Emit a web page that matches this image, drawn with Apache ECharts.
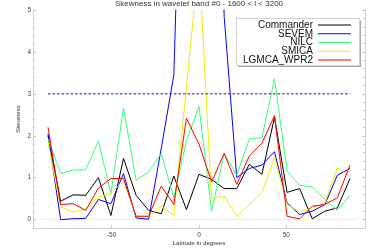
<!DOCTYPE html>
<html>
<head>
<meta charset="utf-8">
<script src="https://cdn.jsdelivr.net/npm/echarts@6/dist/echarts.min.js"></script>
<style>html,body{margin:0;padding:0;background:#fff}#c{width:375px;height:250px}</style>
</head>
<body>
<div id="c"></div>
<script>
var latitudes = [-86.4,-79.2,-72,-64.8,-57.6,-50.4,-43.2,-36,-28.8,-21.6,-14.4,-7.2,0,7.2,14.4,21.6,28.8,36,43.2,50.4,57.6,64.8,72,79.2,86.4];
var commander = [2.0,0.44,0.59,0.58,1.0,0.1,1.46,0.58,0.22,0.14,1.04,0.24,1.08,0.96,0.74,0.74,1.32,1.08,2.44,0.65,0.74,0.02,0.2,0.28,0.98];
var sevem = [2.05,0.0,0.02,0.03,0.48,0.38,1.1,0.04,0.01,1.7,3.45,13.4,15.0,14.0,4.85,1.0,1.22,1.3,1.62,0.4,0.12,0.2,0.36,1.06,1.22];
var nilc = [1.92,1.1,1.18,1.19,1.88,0.62,2.66,0.94,1.14,1.58,0.52,1.88,2.7,0.2,1.58,1.06,1.92,1.96,3.36,1.16,0.82,0.78,0.48,0.22,0.58];
var smica = [1.85,0.3,0.18,0.26,0.54,0.62,0.94,0.08,0.08,0.32,0.1,3.15,6.2,0.5,0.56,0.08,0.36,0.64,1.48,0.36,0.18,0.28,0.4,1.24,1.02];
var lgmca = [2.2,0.36,0.38,0.22,0.75,0.98,0.98,0.08,0.08,0.8,0.36,2.42,1.8,0.9,1.58,0.84,1.52,1.82,2.48,0.08,0.02,0.32,0.36,0.52,1.3];
var threshold = 3;
var seriesNames = ['Commander','SEVEM','NILC','SMICA','LGMCA_WPR2'];
var seriesColors = ['#000000','#0000ff','#33ff77','#eeee00','#ff0000'];
var yMajorTicks = [0,1,2,3,4,5];
var yMinorTicks = [0.2,0.4,0.6,0.8,1.2,1.4,1.6,1.8,2.2,2.4,2.6,2.8,3.2,3.4,3.6,3.8,4.2,4.4,4.6,4.8];
var xTicks = [-50,0,50];

var FONT = 'Liberation Sans, Arial, sans-serif';
var allValues = [commander, sevem, nilc, smica, lgmca];
function pairs(vals){ return latitudes.map(function(l,i){ return [l, vals[i]]; }); }

var series = allValues.map(function(v,i){
  return {
    name: seriesNames[i], type: 'line', data: pairs(v), showSymbol: false, symbol: 'none',
    lineStyle: { width: 1, color: seriesColors[i] }, itemStyle: { color: seriesColors[i] },
    clip: true, animation: false, z: 3 + i
  };
});
series.unshift({
  name: 'zero', type: 'line', symbol: 'none', silent: true, animation: false,
  data: [[-90.5, 0], [91, 0]], lineStyle: { width: 1, color: '#ebebeb' }, z: 1
});
series.push({
  name: 'threshold', type: 'line', symbol: 'none', silent: true, animation: false,
  data: [[latitudes[0], threshold], [latitudes[latitudes.length-1], threshold]],
  lineStyle: { width: 1, color: '#3c0082', type: [2.5, 2] }, z: 9
});

function yAx(pos, ticks, len, showLine, showLabel, name){
  return {
    type: 'value', position: pos, min: -0.2, max: 5, offset: 0,
    name: name || '', nameLocation: 'middle', nameGap: 12, nameRotate: 90, nameMoveOverlap: false,
    nameTextStyle: { fontFamily: FONT, fontSize: 6, color: '#333' },
    axisLine: { show: showLine, onZero: false, lineStyle: { color: '#cfcfcf', width: 1 } },
    axisTick: { show: true, inside: true, length: len, customValues: ticks, lineStyle: { color: '#c8c8c8' } },
    axisLabel: { show: showLabel, customValues: yMajorTicks, margin: 2, fontFamily: FONT, fontSize: 6.5, color: '#444' },
    splitLine: { show: false }
  };
}

var legends = seriesNames.map(function(n,i){
  var cy = 25 + i * 8.75;
  return {
    data: [n], orient: 'horizontal', align: 'right', right: 24, top: cy - 5, padding: 0, z: 100,
    itemWidth: 33, itemHeight: 1, itemGap: 0, icon: 'rect', selectedMode: false,
    textStyle: { fontFamily: FONT, fontSize: 10, lineHeight: 10, color: '#111', padding: [0,0,0,0] }
  };
});

var option = {
  animation: false,
  backgroundColor: '#fff',
  title: {
    text: 'Skewness in wavelet band #0 - 1600 < l < 3200',
    left: 199, textAlign: 'center', top: 0, padding: 0,
    textStyle: { fontFamily: FONT, fontSize: 8, fontWeight: 'normal', color: '#333' }
  },
  legend: legends,
  graphic: [
    { type: 'rect', shape: { x: 238, y: 20, width: 123, height: 47 }, style: { fill: '#a8a8a8' }, z: 10 },
    { type: 'rect', shape: { x: 236.5, y: 18.5, width: 123, height: 47 }, style: { fill: '#fff', stroke: '#d0d0d0', lineWidth: 1 }, z: 11 }
  ],
  grid: { left: 33, right: 10, top: 10, bottom: 22, containLabel: false, outerBoundsMode: 'none' },
  xAxis: [{
    type: 'value', min: -95, max: 95,
    name: 'Latitude in degrees', nameLocation: 'middle', nameGap: 12, nameMoveOverlap: false,
    nameTextStyle: { fontFamily: FONT, fontSize: 6.2, color: '#333' },
    axisLine: { show: true, onZero: false, lineStyle: { color: '#cfcfcf', width: 1 } },
    axisTick: { show: true, inside: true, length: 3, customValues: xTicks, lineStyle: { color: '#c8c8c8' } },
    axisLabel: { customValues: xTicks, margin: 4, fontFamily: FONT, fontSize: 6.5, color: '#444' },
    splitLine: { show: false }
  }],
  yAxis: [
    yAx('left', yMajorTicks, 3, true, true, 'Skewness'),
    yAx('left', yMinorTicks, 2, false, false),
    yAx('right', yMajorTicks, 3, true, false),
    yAx('right', yMinorTicks, 2, false, false)
  ],
  series: series
};
var chart = echarts.init(document.getElementById('c'), null, { renderer: 'canvas' });
chart.setOption(option);
</script>
</body>
</html>
